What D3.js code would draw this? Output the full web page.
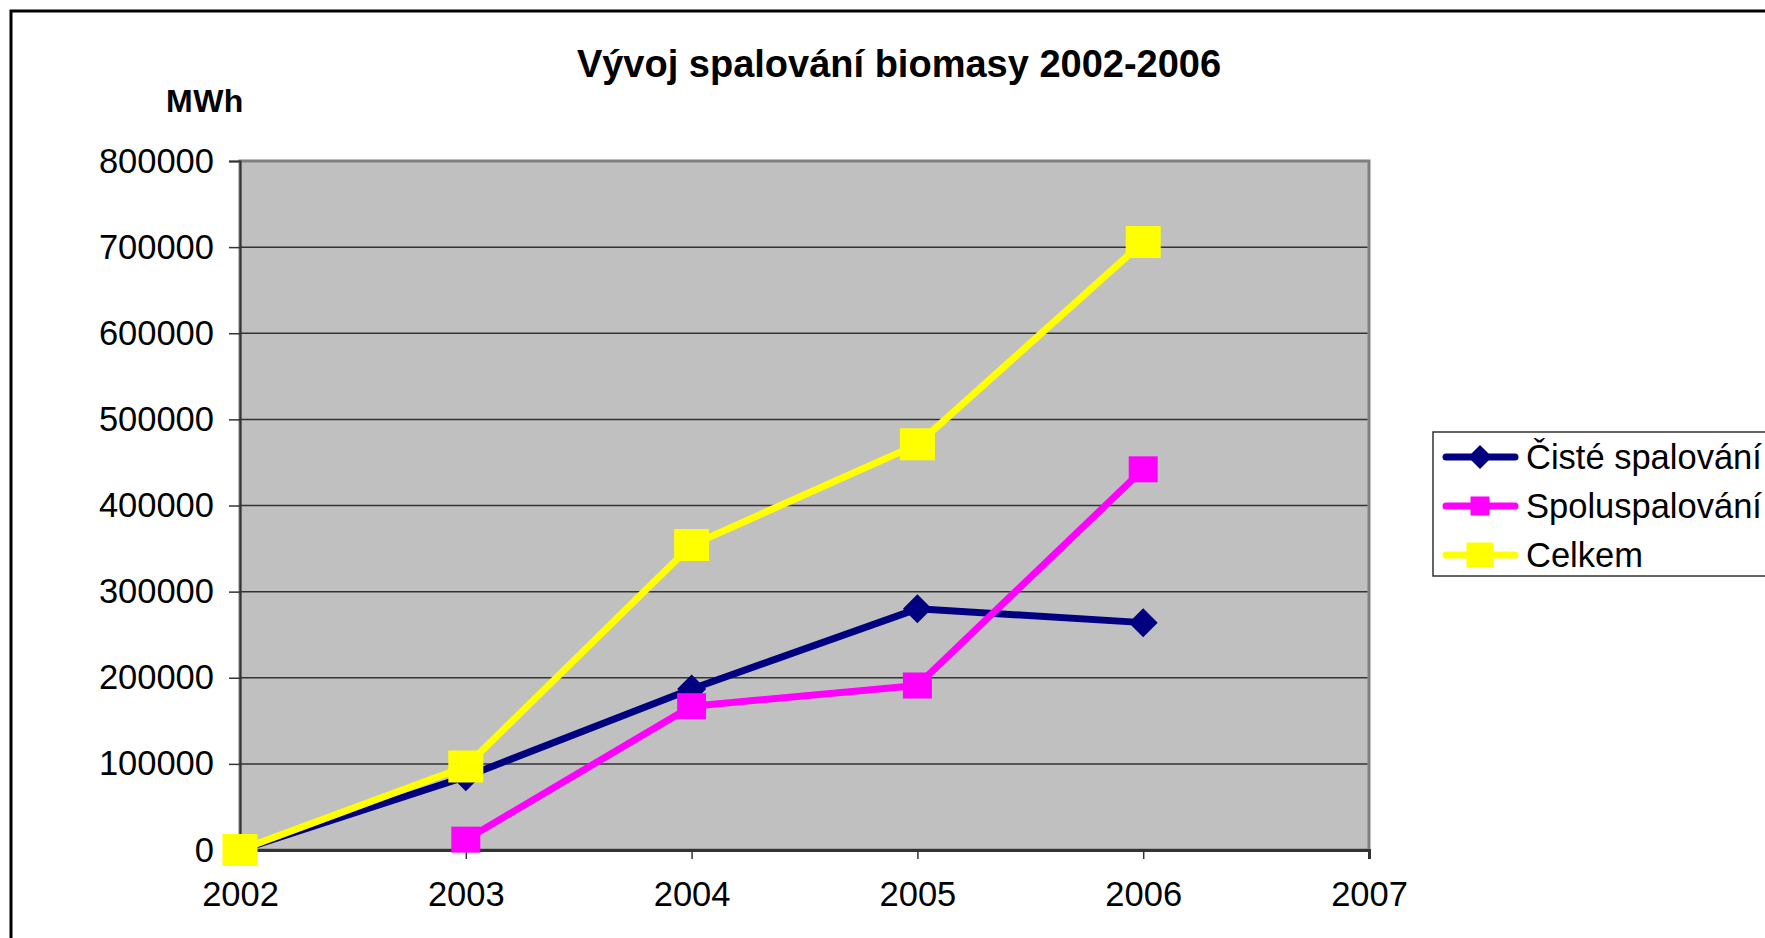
<!DOCTYPE html>
<html lang="cs">
<head>
    <meta charset="UTF-8">
    <title>Vývoj spalování biomasy 2002-2006</title>
    <style>
        body {
            margin: 0;
            background: #fff;
            overflow: hidden;
        }
        text {
            font-family: "Liberation Sans", Arial, sans-serif;
        }
    </style>
    <script src="https://cdn.jsdelivr.net/npm/d3@7"></script>
</head>
<body>
    <script>
        // Data
        const years = [2002, 2003, 2004, 2005, 2006];
        const cisteSpalovani = [0, 85000, 187000, 280000, 264000];
        const spoluspalovani = [null, 12000, 167000, 191000, 442000];
        const celkem = [0, 97000, 354000, 471000, 706000];
        const xTicks = [2002, 2003, 2004, 2005, 2006, 2007];
        const yTicks = [0, 100000, 200000, 300000, 400000, 500000, 600000, 700000, 800000];

        const series = [
            { name: "Čisté spalování", values: cisteSpalovani, color: "#000080", marker: "diamond", w: 29, h: 29, lw: 24, lh: 24 },
            { name: "Spoluspalování", values: spoluspalovani, color: "#FF00FF", marker: "square", w: 29, h: 26, lw: 19, lh: 19 },
            { name: "Celkem", values: celkem, color: "#FFFF00", marker: "square", w: 35, h: 32, lw: 27, lh: 25 }
        ];

        // Canvas
        const width = 1765;
        const height = 938;
        const svg = d3.select("body").append("svg")
            .attr("width", width)
            .attr("height", height);

        // outer chart border (runs off the page on right / bottom)
        svg.append("rect")
            .attr("x", 11).attr("y", 11)
            .attr("width", 1850).attr("height", 1000)
            .attr("fill", "none")
            .attr("stroke", "#000")
            .attr("stroke-width", 3);

        // Scales
        const plot = { left: 240, right: 1369, top: 161, bottom: 850 };
        const x = d3.scaleLinear().domain([2002, 2007]).range([plot.left, plot.right]);
        const y = d3.scaleLinear().domain([0, 800000]).range([plot.bottom, plot.top]);

        // plot area
        svg.append("rect")
            .attr("x", plot.left).attr("y", plot.top)
            .attr("width", plot.right - plot.left)
            .attr("height", plot.bottom - plot.top)
            .attr("fill", "#C0C0C0")
            .attr("stroke", "#808080")
            .attr("stroke-width", 3);

        // gridlines
        svg.append("g")
            .selectAll("line")
            .data(yTicks.filter(d => d > 0))
            .join("line")
            .attr("x1", plot.left).attr("x2", plot.right - 1.5)
            .attr("y1", d => y(d)).attr("y2", d => y(d))
            .attr("stroke", d => d === 800000 ? "#808080" : "#333")
            .attr("stroke-width", 1.5);

        // Y axis
        const yAxis = svg.append("g")
            .attr("transform", `translate(${plot.left},0)`)
            .call(d3.axisLeft(y).tickValues(yTicks).tickFormat(d3.format("d")).tickSize(11).tickPadding(15));
        yAxis.select(".domain").attr("stroke", "#333").attr("stroke-width", 2);
        yAxis.selectAll(".tick line").attr("stroke", "#333").attr("stroke-width", 1.5);
        yAxis.selectAll("text")
            .attr("font-size", 34.5)
            .attr("font-family", "'Liberation Sans', Arial, sans-serif")
            .attr("fill", "#000");

        // X axis
        const xAxis = svg.append("g")
            .attr("transform", `translate(0,${plot.bottom})`)
            .call(d3.axisBottom(x).tickValues(xTicks).tickFormat(d3.format("d")).tickSize(9).tickPadding(23));
        xAxis.select(".domain").attr("stroke", "#333").attr("stroke-width", 3);
        xAxis.selectAll(".tick line").attr("stroke", "#333").attr("stroke-width", 1.5);
        xAxis.selectAll("text")
            .attr("font-size", 34.5)
            .attr("font-family", "'Liberation Sans', Arial, sans-serif")
            .attr("fill", "#000");

        // Lines and markers
        const line = d3.line()
            .defined(d => d.v !== null)
            .x(d => x(d.year))
            .y(d => y(d.v));

        // marker drawn as a path centred on 0,0
        const markerPath = (type, w, h) => {
            const p = d3.path();
            if (type === "diamond") {
                p.moveTo(0, -h / 2);
                p.lineTo(w / 2, 0);
                p.lineTo(0, h / 2);
                p.lineTo(-w / 2, 0);
            } else {
                p.rect(-w / 2, -h / 2, w, h);
            }
            p.closePath();
            return p.toString();
        };

        series.forEach(s => {
            const pts = years.map((year, i) => ({ year, v: s.values[i] }));
            const g = svg.append("g");
            g.append("path")
                .datum(pts)
                .attr("d", line)
                .attr("fill", "none")
                .attr("stroke", s.color)
                .attr("stroke-width", 7)
                .attr("stroke-linejoin", "round");
            g.selectAll("path.marker")
                .data(pts.filter(d => d.v !== null))
                .join("path")
                .attr("class", "marker")
                .attr("transform", d => `translate(${x(d.year)},${y(d.v)})`)
                .attr("d", markerPath(s.marker, s.w, s.h))
                .attr("fill", s.color);
        });

        // Title
        svg.append("text")
            .attr("x", 899).attr("y", 77)
            .attr("text-anchor", "middle")
            .attr("font-size", 38)
            .attr("font-weight", "bold")
            .text("Vývoj spalování biomasy 2002-2006");

        svg.append("text")
            .attr("x", 166).attr("y", 112)
            .attr("font-size", 32)
            .attr("font-weight", "bold")
            .attr("letter-spacing", 0.5)
            .text("MWh");

        // Legend
        const legend = svg.append("g");
        legend.append("rect")
            .attr("x", 1433).attr("y", 432)
            .attr("width", 400).attr("height", 144)
            .attr("fill", "#fff")
            .attr("stroke", "#333")
            .attr("stroke-width", 1.5);

        const rows = legend.selectAll("g.row")
            .data(series)
            .join("g")
            .attr("class", "row")
            .attr("transform", (d, i) => `translate(0,${457 + i * 49})`);
        rows.append("line")
            .attr("x1", 1446).attr("x2", 1515)
            .attr("stroke", d => d.color)
            .attr("stroke-width", 7)
            .attr("stroke-linecap", "round");
        rows.append("path")
            .attr("transform", "translate(1480,0)")
            .attr("d", d => markerPath(d.marker, d.lw, d.lh))
            .attr("fill", d => d.color);
        rows.append("text")
            .attr("x", 1526).attr("y", 12)
            .attr("font-size", 34.5)
            .text(d => d.name);
    </script>
</body>
</html>
